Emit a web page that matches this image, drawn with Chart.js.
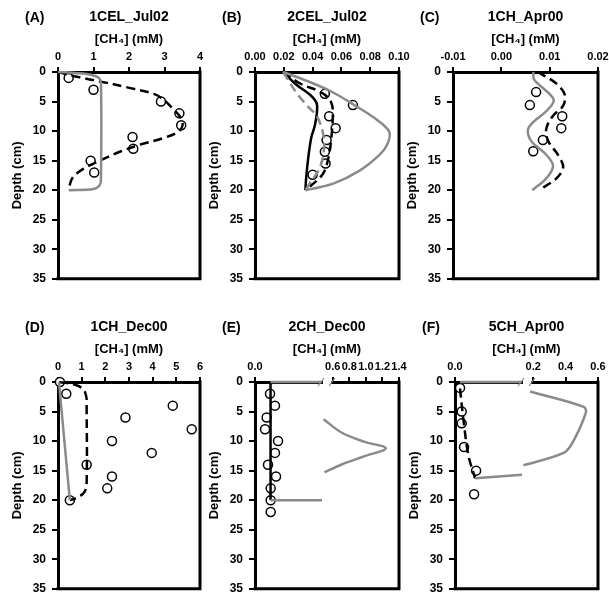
<!DOCTYPE html>
<html>
<head>
<meta charset="utf-8">
<script src="https://cdn.jsdelivr.net/npm/chart.js@4.4.1/dist/chart.umd.min.js"></script>
<style>
  body { margin: 0; background: #fff; width: 609px; height: 599px; overflow: hidden; position: relative;
         font-family: "Liberation Sans", Arial, sans-serif; }
  .panel { position: absolute; }
  .tag { position: absolute; font-weight: bold; font-size: 14px; line-height: 17px; color: #000; }
</style>
</head>
<body>
<script>
// depth axis shared by all panels
const depthTicks = [0, 5, 10, 15, 20, 25, 30, 35];

// (A) 1CEL_Jul02
const aTicks = [0, 1, 2, 3, 4];
const aObsDepth = [1, 3, 5, 7, 9, 11, 13, 15, 17];
const aObsConc = [0.30, 1.00, 2.90, 3.42, 3.47, 2.10, 2.12, 0.92, 1.02];
const aDashDepth = [0, 0.9, 1.6, 2.6, 3.7, 4.6, 6.3, 7.6, 9.0, 10.1, 11.2, 12.3, 13.5, 15.0, 16.4, 18.0, 20];
const aDashConc = [0, 0.6, 1.18, 1.95, 2.7, 2.96, 3.25, 3.44, 3.51, 3.39, 2.96, 2.31, 1.74, 1.18, 0.71, 0.40, 0.30];
const aGrayDepth = [0, 0.2, 0.5, 1.0, 1.8, 18.2, 19.2, 19.8, 20];
const aGrayConc = [0, 0.55, 0.95, 1.15, 1.21, 1.21, 1.17, 1.0, 0.30];

// (B) 2CEL_Jul02
const bTicks = [0, 0.02, 0.04, 0.06, 0.08, 0.10];
const bObsDepth = [3.7, 5.6, 7.5, 9.5, 11.5, 13.5, 15.5, 17.4];
const bObsConc = [0.0485, 0.068, 0.0515, 0.056, 0.0497, 0.0485, 0.049, 0.040];
const bBlackDepth = [0, 2.2, 3.8, 5.2, 6.8, 9, 11.2, 14.5, 18, 20];
const bBlackConc = [0.0196, 0.029, 0.038, 0.0427, 0.043, 0.0416, 0.039, 0.037, 0.0355, 0.035];
const bDashDepth = [0, 1.9, 3.6, 5.2, 7.4, 11.2, 14.5, 17.3, 20];
const bDashConc = [0.0196, 0.031, 0.047, 0.053, 0.054, 0.053, 0.051, 0.047, 0.035];
const bGrayDashDepth = [0, 3.6, 5.6, 7.4, 10.1, 12.9, 16.2, 18.9, 20];
const bGrayDashConc = [0.0196, 0.029, 0.0358, 0.0427, 0.047, 0.048, 0.045, 0.038, 0.035];
const bGrayDepth = [0, 1.5, 3.3, 5.6, 7.8, 10.1, 12.2, 14, 16.7, 18.9, 20];
const bGrayConc = [0.0196, 0.036, 0.053, 0.069, 0.083, 0.0932, 0.092, 0.0866, 0.0727, 0.0543, 0.035];

// (C) 1CH_Apr00
const cTicks = [-0.01, 0, 0.01, 0.02];
const cObsDepth = [3.4, 5.6, 7.5, 9.5, 11.5, 13.4];
const cObsConc = [0.0072, 0.0059, 0.0126, 0.0124, 0.0086, 0.0066];
const cGrayDepth = [0, 1.3, 4.6, 6.3, 8.5, 9.8, 11.7, 14, 15.9, 18, 20];
const cGrayConc = [0.0066, 0.0068, 0.0108, 0.0097, 0.0066, 0.0055, 0.0062, 0.0093, 0.0107, 0.0093, 0.0064];
const cDashDepth = [0, 1.9, 3.8, 5.7, 7.4, 9.6, 11.7, 14, 16.1, 18, 19.9];
const cDashConc = [0.0075, 0.0113, 0.0131, 0.0128, 0.0107, 0.0093, 0.0097, 0.0117, 0.0128, 0.0114, 0.008];

// (D) 1CH_Dec00
const dTicks = [0, 1, 2, 3, 4, 5, 6];
const dObsDepth = [0, 2, 4, 6, 8, 10, 12, 14, 16, 18, 20];
const dObsConc = [0.08, 0.35, 4.85, 2.85, 5.65, 2.28, 3.96, 1.21, 2.28, 2.08, 0.5];
const dGrayDepth = [0, 20];
const dGrayConc = [0.04, 0.5];
const dDashDepth = [0, 0.5, 1.3, 2.6, 4, 17, 18.6, 19.5, 20];
const dDashConc = [0.05, 0.75, 1.08, 1.2, 1.21, 1.21, 1.12, 0.85, 0.5];

// (E) 2CH_Dec00 (broken axis)
const eTicksLow = [0];
const eTicksHigh = [0.6, 0.8, 1.0, 1.2, 1.4];
const eObsDepth = [2, 4, 6, 8, 10, 12, 14, 16, 18, 20, 22];
const eObsConc = [0.112, 0.149, 0.087, 0.075, 0.172, 0.149, 0.097, 0.157, 0.117, 0.117, 0.117];
const eBlackDepth = [0, 20];
const eBlackConc = [0.116, 0.116];
const eGrayTopDepth = [0, 0];
const eGrayTopConc = [0.116, 0.5];
const eGrayBotDepth = [20, 20];
const eGrayBotConc = [0.116, 0.5];
const eGrayPeakDepth = [6.3, 8.5, 10.1, 11.2, 12.6, 14, 15.3];
const eGrayPeakConc = [0.49, 0.70, 0.976, 1.24, 0.976, 0.70, 0.50];

// (F) 5CH_Apr00 (broken axis)
const fTicksLow = [0];
const fTicksHigh = [0.2, 0.4, 0.6];
const fObsDepth = [1, 5, 7, 11, 15, 19];
const fObsConc = [0.015, 0.02, 0.02, 0.027, 0.063, 0.057];
const fDashDepth = [1.1, 6.3, 12.4, 16.3];
const fDashConc = [0.015, 0.025, 0.04, 0.06];
const fGrayTopDepth = [0, 0];
const fGrayTopConc = [0.015, 0.2];
const fGrayBotDepth = [15.7, 16.3];
const fGrayBotConc = [0.2, 0.06];
const fGrayPeakDepth = [1.6, 4.2, 5.2, 10.2, 12, 14.1];
const fGrayPeakConc = [0.181, 0.512, 0.525, 0.444, 0.387, 0.14];

const FONT = '"Liberation Sans", Arial, sans-serif';
const GRAY = '#8a8a8a';
Chart.defaults.font.family = FONT;
Chart.defaults.font.weight = 'bold';
Chart.defaults.color = '#000';

function pts(xs, ys) { return xs.map((x, i) => ({ x: x, y: ys[i] })); }

function circles(xs, ys, axis) {
  return { data: pts(xs, ys), xAxisID: axis || 'x', order: 1, showLine: false, clip: false,
    pointRadius: 4.5, pointBorderWidth: 1.5, pointBackgroundColor: '#fff', pointBorderColor: '#000' };
}

function curve(xs, ys, color, dashed, axis) {
  return { data: pts(xs, ys), xAxisID: axis || 'x', order: 0, showLine: true, clip: false,
    pointRadius: 0, borderColor: color, borderWidth: 2.5, borderDash: dashed ? [9, 5] : [],
    tension: 0.35, fill: false };
}

function depthAxis() {
  return {
    reverse: true, min: 0, max: 35,
    afterFit: s => { s.width = 58; },
    afterBuildTicks: s => { s.ticks = depthTicks.map(v => ({ value: v })); },
    ticks: { font: { size: 12, weight: 'bold' }, color: '#000', padding: 6 },
    grid: { drawOnChartArea: false, color: '#000', lineWidth: 2, tickLength: 6 },
    border: { color: '#000', width: 3 },
    title: { display: true, text: 'Depth (cm)', color: '#000',
      font: { size: 13, weight: 'bold' }, padding: { top: 10, bottom: 0 } }
  };
}

function concAxis(min, max, ticks, digits, extra) {
  return Object.assign({
    axis: 'x', position: 'top', min: min, max: max,
    afterFit: s => { s.height = 24.6; },
    afterBuildTicks: s => { s.ticks = ticks.map(v => ({ value: v })); },
    ticks: { font: { size: 11, weight: 'bold' }, color: '#000', padding: 3,
      autoSkip: false, maxRotation: 0, minRotation: 0, callback: v => Number(v).toFixed(digits) },
    grid: { drawOnChartArea: false, color: '#000', lineWidth: 2, tickLength: 5 },
    border: { color: '#000', width: 3 }
  }, extra || {});
}

// right and bottom sides of the frame
const frame = {
  id: 'frame',
  afterDraw(chart) {
    const a = chart.chartArea, ctx = chart.ctx;
    ctx.save();
    ctx.strokeStyle = '#000';
    ctx.lineWidth = 3;
    ctx.lineCap = 'square';
    ctx.beginPath();
    ctx.moveTo(a.right, a.top);
    ctx.lineTo(a.right, a.bottom);
    ctx.lineTo(a.left, a.bottom);
    ctx.stroke();
    ctx.restore();
  }
};

// "//" mark where the concentration axis is broken
const breakMark = {
  id: 'breakMark',
  afterDraw(chart) {
    const bx = chart.scales.x.right, y = chart.chartArea.top, ctx = chart.ctx;
    ctx.save();
    ctx.fillStyle = '#fff';
    ctx.fillRect(bx + 1, y - 7, 8, 9.5);
    ctx.strokeStyle = GRAY;
    ctx.lineWidth = 1.2;
    ctx.beginPath();
    ctx.moveTo(bx - 4, y + 4); ctx.lineTo(bx + 2, y - 4);
    ctx.moveTo(bx + 7, y + 4); ctx.lineTo(bx + 13, y - 4);
    ctx.stroke();
    ctx.restore();
  }
};

const rowTops = [0, 310];

const panels = [
  { tag: '(A)', name: '1CEL_Jul02', row: 0, left: 58, right: 200,
    scales: { x: concAxis(0, 4, aTicks, 0) },
    datasets: [
      circles(aObsConc, aObsDepth),
      curve(aGrayConc, aGrayDepth, GRAY, false),
      curve(aDashConc, aDashDepth, '#000', true)
    ] },
  { tag: '(B)', name: '2CEL_Jul02', row: 0, left: 255, right: 399,
    scales: { x: concAxis(0, 0.1, bTicks, 2) },
    datasets: [
      circles(bObsConc, bObsDepth),
      curve(bGrayConc, bGrayDepth, GRAY, false),
      curve(bGrayDashConc, bGrayDashDepth, GRAY, true),
      curve(bDashConc, bDashDepth, '#000', true),
      curve(bBlackConc, bBlackDepth, '#000', false)
    ] },
  { tag: '(C)', name: '1CH_Apr00', row: 0, left: 453, right: 598,
    scales: { x: concAxis(-0.01, 0.02, cTicks, 2) },
    datasets: [
      circles(cObsConc, cObsDepth),
      curve(cGrayConc, cGrayDepth, GRAY, false),
      curve(cDashConc, cDashDepth, '#000', true)
    ] },
  { tag: '(D)', name: '1CH_Dec00', row: 1, left: 58, right: 200,
    scales: { x: concAxis(0, 6, dTicks, 0) },
    datasets: [
      circles(dObsConc, dObsDepth),
      curve(dGrayConc, dGrayDepth, GRAY, false),
      curve(dDashConc, dDashDepth, '#000', true)
    ] },
  { tag: '(E)', name: '2CH_Dec00', row: 1, left: 255, right: 399, broken: true,
    scales: {
      x: concAxis(0, 0.5, eTicksLow, 1, { stack: 'conc', stackWeight: 67, weight: 1 }),
      x2: concAxis(0.47, 1.4, eTicksHigh, 1, { stack: 'conc', stackWeight: 77, weight: 0 })
    },
    datasets: [
      circles(eObsConc, eObsDepth),
      curve(eGrayTopConc, eGrayTopDepth, GRAY, false),
      curve(eGrayBotConc, eGrayBotDepth, GRAY, false),
      curve(eGrayPeakConc, eGrayPeakDepth, GRAY, false, 'x2'),
      curve(eBlackConc, eBlackDepth, '#000', false)
    ] },
  { tag: '(F)', name: '5CH_Apr00', row: 1, left: 455, right: 598, broken: true,
    scales: {
      x: concAxis(0, 0.2, fTicksLow, 1, { stack: 'conc', stackWeight: 67, weight: 1 }),
      x2: concAxis(0.131, 0.6, fTicksHigh, 1, { stack: 'conc', stackWeight: 76, weight: 0 })
    },
    datasets: [
      circles(fObsConc, fObsDepth),
      curve(fGrayTopConc, fGrayTopDepth, GRAY, false),
      curve(fGrayBotConc, fGrayBotDepth, GRAY, false),
      curve(fGrayPeakConc, fGrayPeakDepth, GRAY, false, 'x2'),
      curve(fDashConc, fDashDepth, '#000', true)
    ] }
];

panels.forEach(p => {
  const top = rowTops[p.row];
  const boxLeft = p.left - 58;
  const w = 58 + (p.right - p.left) + 14;
  const h = 292;

  const div = document.createElement('div');
  div.className = 'panel';
  div.style.left = boxLeft + 'px';
  div.style.top = top + 'px';
  div.style.width = w + 'px';
  div.style.height = h + 'px';
  const canvas = document.createElement('canvas');
  canvas.width = w;
  canvas.height = h;
  div.appendChild(canvas);
  document.body.appendChild(div);

  const tag = document.createElement('div');
  tag.className = 'tag';
  tag.textContent = p.tag;
  tag.style.left = (p.left - 33) + 'px';
  tag.style.top = (top + 9) + 'px';
  document.body.appendChild(tag);

  const scales = Object.assign({ y: depthAxis() }, p.scales);

  new Chart(canvas, {
    type: 'scatter',
    data: { datasets: p.datasets },
    options: {
      responsive: false,
      animation: false,
      events: [],
      layout: { padding: { left: 0, top: 0, right: 14, bottom: 8 } },
      scales: scales,
      plugins: {
        legend: { display: false },
        tooltip: { enabled: false },
        title: { display: true, text: p.name, fullSize: false, color: '#000',
          font: { size: 14, weight: 'bold' }, padding: { top: 9, bottom: 0 } },
        subtitle: { display: true, text: '[CH\u2084] (mM)', fullSize: false, color: '#000',
          font: { size: 13, weight: 'bold' }, padding: { top: 6, bottom: 0 } }
      }
    },
    plugins: p.broken ? [frame, breakMark] : [frame]
  });
});
</script>
</body>
</html>
